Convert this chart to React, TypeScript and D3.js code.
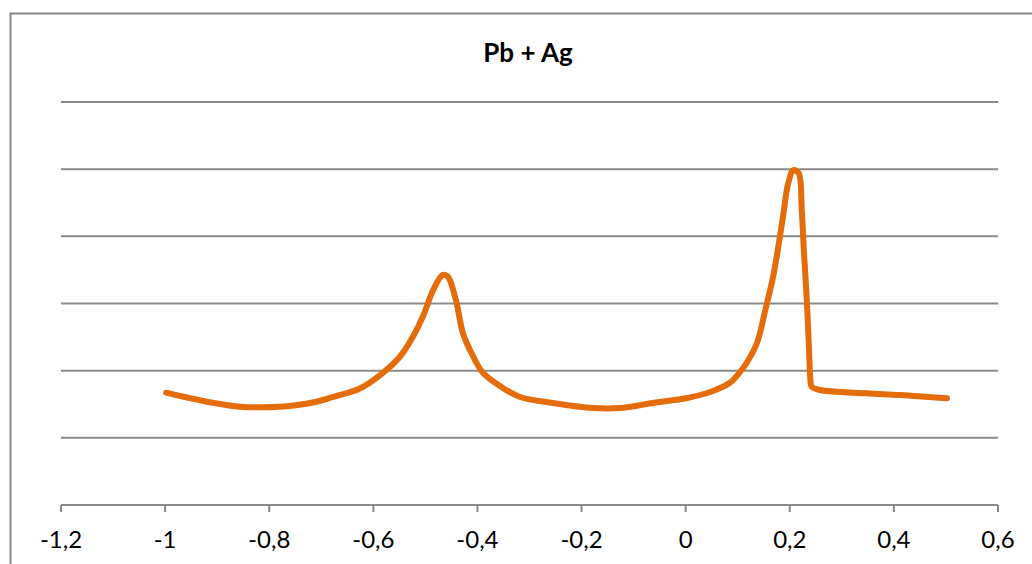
import React from "react";
import * as d3 from "d3";

const xValues: number[] = [
  -0.998, -0.962, -0.92, -0.856, -0.812, -0.76, -0.709, -0.664, -0.626, -0.587,
  -0.549, -0.524, -0.505, -0.485, -0.467, -0.458, -0.453, -0.44, -0.428, -0.408,
  -0.389, -0.351, -0.318, -0.255, -0.178, -0.126, -0.063, 0.003, 0.047,
  0.085, 0.105, 0.117, 0.137, 0.153, 0.168, 0.181, 0.188, 0.197, 0.207,
  0.217, 0.223, 0.227, 0.233, 0.237, 0.2395, 0.242, 0.258, 0.348, 0.412, 0.502,
];
const yValues: number[] = [
  1.672, 1.608, 1.538, 1.463, 1.455, 1.474, 1.538, 1.638, 1.735, 1.935,
  2.208, 2.506, 2.803, 3.201, 3.424, 3.409, 3.35, 3.007, 2.561, 2.208,
  1.965, 1.742, 1.608, 1.519, 1.444, 1.444, 1.519, 1.593, 1.682,
  1.82, 1.985, 2.114, 2.412, 2.903, 3.399, 3.994, 4.347, 4.789, 4.987,
  4.943, 4.392, 3.796, 3.007, 2.308, 1.88, 1.761, 1.712, 1.663, 1.638, 1.588,
];
const xTicks: number[] = [-1.2, -1, -0.8, -0.6, -0.4, -0.2, 0, 0.2, 0.4, 0.6];
const xTickLabels: string[] = ["-1,2", "-1", "-0,8", "-0,6", "-0,4", "-0,2", "0", "0,2", "0,4", "0,6"];
const yGrid: number[] = [1, 2, 3, 4, 5, 6];
const title = "Pb + Ag";

export default function App() {
  const x = d3.scaleLinear().domain([-1.2, 0.6]).range([61, 998]);
  const y = d3.scaleLinear().domain([0, 6]).range([505, 102]);
  const pts: [number, number][] = xValues.map((v, i) => [v, yValues[i]]);
  const line = d3
    .line<[number, number]>()
    .x((d) => x(d[0]))
    .y((d) => y(d[1]))
    .curve(d3.curveCatmullRom.alpha(0.5));
  const font = "Lato, 'Liberation Sans', Arial, sans-serif";
  return (
    <svg
      width={1032}
      height={564}
      style={{ position: "absolute", left: 0, top: 0, background: "#fff" }}
    >
      <rect x={10.5} y={13.5} width={1040} height={600} fill="#fff" stroke="#878787" strokeWidth={2} />
      {yGrid.map((g) => (
        <line key={g} x1={61} x2={998} y1={y(g)} y2={y(g)} stroke="#8a8a8a" strokeWidth={2} />
      ))}
      <line x1={61} x2={998} y1={y(0)} y2={y(0)} stroke="#8a8a8a" strokeWidth={2} />
      {xTicks.map((t, i) => (
        <g key={i}>
          <line x1={x(t)} x2={x(t)} y1={y(0)} y2={y(0) + 7} stroke="#8a8a8a" strokeWidth={2} />
          <text x={x(t)} y={548} textAnchor="middle" fontFamily={font} fontSize={24} fill="#000">
            {xTickLabels[i]}
          </text>
        </g>
      ))}
      <text x={528} y={62} textAnchor="middle" fontFamily={font} fontSize={26} fontWeight="bold" fill="#000">
        {title}
      </text>
      <path
        d={line(pts) || ""}
        fill="none"
        stroke="#E46C0A"
        strokeWidth={6}
        strokeLinejoin="round"
        strokeLinecap="round"
      />
    </svg>
  );
}
